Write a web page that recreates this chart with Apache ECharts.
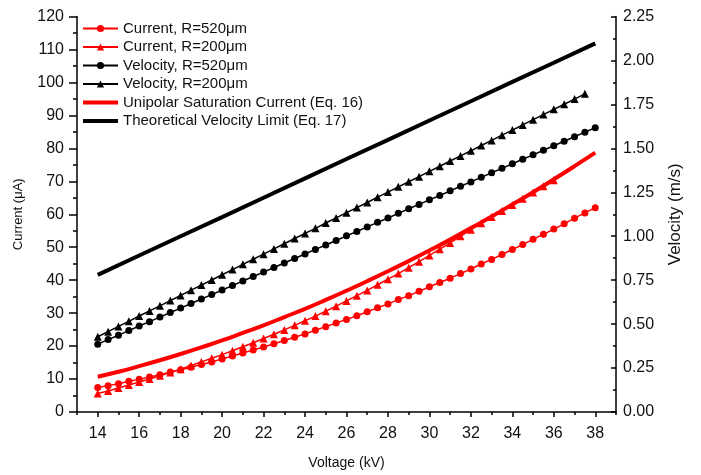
<!DOCTYPE html>
<html>
<head>
<meta charset="utf-8">
<script src="https://cdn.jsdelivr.net/npm/echarts@6/dist/echarts.min.js"></script>
<style>
html,body{margin:0;padding:0;background:#fff;}
#chart{width:701px;height:475px;}
</style>
</head>
<body>
<div id="chart"></div>
<script>
// ---- Data ----
var voltageStep = [14,14.5,15,15.5,16,16.5,17,17.5,18,18.5,19,19.5,20,20.5,21,21.5,22,22.5,23,23.5,24,24.5,25,25.5,26,26.5,27,27.5,28,28.5,29,29.5,30,30.5,31,31.5,32,32.5,33,33.5,34,34.5,35,35.5,36,36.5,37,37.5,38];

// Current, R=520um (uA), 14..38 kV step 0.5
var current520 = [7.4,8.0,8.6,9.3,9.9,10.6,11.3,12.1,12.8,13.6,14.4,15.2,16.1,17.0,17.9,18.8,19.7,20.7,21.7,22.7,23.7,24.8,25.9,27.0,28.1,29.2,30.4,31.6,32.8,34.1,35.3,36.6,38.0,39.3,40.6,42.0,43.4,44.9,46.3,47.8,49.3,50.8,52.4,53.9,55.5,57.1,58.8,60.4,62.0];

// Current, R=200um (uA), 14..36 kV step 0.5
var current200 = [5.6,6.4,7.3,8.2,9.1,10.0,11.0,12.0,13.0,14.1,15.2,16.3,17.4,18.6,19.8,21.0,22.3,23.6,24.9,26.3,27.7,29.1,30.6,32.1,33.7,35.3,36.9,38.6,40.3,42.0,43.8,45.6,47.5,49.4,51.3,53.3,55.3,57.3,59.2,61.0,62.8,64.7,66.6,68.5,70.3];

// Velocity, R=520um (m/s), 14..38 kV step 0.5
var velocity520 = [0.386,0.412,0.437,0.463,0.489,0.514,0.540,0.566,0.591,0.617,0.643,0.668,0.694,0.719,0.745,0.771,0.796,0.822,0.848,0.873,0.899,0.925,0.950,0.976,1.002,1.027,1.053,1.079,1.104,1.130,1.156,1.181,1.207,1.232,1.258,1.284,1.309,1.335,1.361,1.386,1.412,1.438,1.463,1.489,1.515,1.540,1.566,1.592,1.617];

// Velocity, R=200um (m/s), 14..37.5 kV step 0.5
var velocity200 = [0.428,0.457,0.487,0.516,0.546,0.575,0.604,0.634,0.663,0.693,0.722,0.751,0.781,0.810,0.840,0.869,0.898,0.928,0.957,0.987,1.016,1.045,1.075,1.104,1.134,1.163,1.192,1.222,1.251,1.281,1.310,1.339,1.369,1.398,1.428,1.457,1.486,1.516,1.545,1.575,1.604,1.633,1.663,1.692,1.722,1.751,1.780,1.810];

// Unipolar saturation current (Eq. 16), 14..38 kV step 1
var voltageInt = [14,15,16,17,18,19,20,21,22,23,24,25,26,27,28,29,30,31,32,33,34,35,36,37,38];
var saturationCurrent = [10.7,12.2,13.9,15.7,17.6,19.6,21.7,24.0,26.3,28.8,31.3,34.0,36.8,39.7,42.7,45.8,49.0,52.3,55.8,59.3,63.0,66.7,70.6,74.6,78.7];

// Theoretical velocity limit (Eq. 17), 14..38 kV step 2
var voltageEven = [14,16,18,20,22,24,26,28,30,32,34,36,38];
var velocityLimit = [0.780,0.890,1.000,1.109,1.219,1.329,1.439,1.548,1.658,1.768,1.878,1.987,2.097];

var xMajorTicks = [14,16,18,20,22,24,26,28,30,32,34,36,38];
var xMinorTicks = [13,15,17,19,21,23,25,27,29,31,33,35,37,39];

var seriesNames = ['Current, R=520μm','Current, R=200μm','Velocity, R=520μm','Velocity, R=200μm','Unipolar Saturation Current (Eq. 16)','Theoretical Velocity Limit (Eq. 17)'];

function pairs(xs, ys){ var out=[]; for(var i=0;i<ys.length;i++){ out.push([xs[i], ys[i]]); } return out; }

var FONT = 'Liberation Sans, Arial, sans-serif';
var RED = '#ff0000', BLACK = '#000000';
// thick-line legend icon (bounding box 35 x 9, bar in the middle)
var THICK_ICON = 'path://M0,0L0.001,0L0.001,0.001ZM0,2.6L35,2.6L35,6.4L0,6.4ZM0,9L0.001,9L0.001,8.999Z';

var chart = echarts.init(document.getElementById('chart'), null, {renderer:'canvas'});
var axisLine = {show:true, lineStyle:{color:'#000', width:1.5}};
var tickStyle = {color:'#000', width:1.5};

chart.setOption({
  animation:false,
  backgroundColor:'#fff',
  textStyle:{fontFamily:FONT},
  grid:{left:77, right:85, top:16.5, bottom:59, containLabel:false},
  legend:{
    orient:'vertical', left:77, top:16,
    itemWidth:35, itemHeight:9, itemGap:3.5,
    textStyle:{fontSize:15, color:'#111', fontFamily:FONT},
    data:[
      {name:seriesNames[0]},
      {name:seriesNames[1]},
      {name:seriesNames[2]},
      {name:seriesNames[3]},
      {name:seriesNames[4], icon:THICK_ICON},
      {name:seriesNames[5], icon:THICK_ICON}
    ]
  },
  xAxis:[{
    type:'value', min:13, max:39, position:'bottom',
    axisLine:axisLine,
    axisTick:{show:true, customValues:xMajorTicks, length:5, lineStyle:tickStyle},
    axisLabel:{customValues:xMajorTicks, fontSize:16, margin:14, color:'#111', fontFamily:FONT},
    splitLine:{show:false},
    name:'Voltage (kV)', nameLocation:'middle', nameGap:44,
    nameTextStyle:{fontSize:14, color:'#111', fontFamily:FONT}
  },{
    type:'value', min:13, max:39, position:'bottom',
    axisLine:{show:false},
    axisTick:{show:true, customValues:xMinorTicks, length:3, lineStyle:tickStyle},
    axisLabel:{show:false},
    splitLine:{show:false}
  }],
  yAxis:[{
    type:'value', min:0, max:120, interval:10, position:'left',
    axisLine:axisLine,
    axisTick:{show:true, length:8, lineStyle:tickStyle},
    minorTick:{show:true, splitNumber:2, length:4, lineStyle:tickStyle},
    axisLabel:{fontSize:16, margin:13, color:'#111', fontFamily:FONT},
    splitLine:{show:false},
    name:'Current (μA)', nameLocation:'middle', nameRotate:90, nameGap:52,
    nameTextStyle:{fontSize:13, color:'#111', fontFamily:FONT}
  },{
    type:'value', min:0, max:2.25, interval:0.25, position:'right',
    axisLine:axisLine,
    axisTick:{show:true, inside:true, length:5, lineStyle:tickStyle},
    minorTick:{show:true, splitNumber:2, length:3, lineStyle:tickStyle},
    axisLabel:{fontSize:16, margin:7, color:'#111', fontFamily:FONT, formatter:function(v){return v.toFixed(2);}},
    splitLine:{show:false},
    name:'Velocity (m/s)', nameLocation:'middle', nameRotate:90, nameGap:51,
    nameTextStyle:{fontSize:17, color:'#111', fontFamily:FONT}
  }],
  series:[{
    name:seriesNames[0], type:'line', xAxisIndex:0, yAxisIndex:0,
    data:pairs(voltageStep, current520),
    symbol:'circle', symbolSize:7, showAllSymbol:true,
    lineStyle:{color:RED, width:1.5}, itemStyle:{color:RED}
  },{
    name:seriesNames[1], type:'line', xAxisIndex:0, yAxisIndex:0,
    data:pairs(voltageStep, current200),
    symbol:'triangle', symbolSize:8, showAllSymbol:true,
    lineStyle:{color:RED, width:1.5}, itemStyle:{color:RED}
  },{
    name:seriesNames[2], type:'line', xAxisIndex:0, yAxisIndex:1,
    data:pairs(voltageStep, velocity520),
    symbol:'circle', symbolSize:7, showAllSymbol:true,
    lineStyle:{color:BLACK, width:1.5}, itemStyle:{color:BLACK}
  },{
    name:seriesNames[3], type:'line', xAxisIndex:0, yAxisIndex:1,
    data:pairs(voltageStep, velocity200),
    symbol:'triangle', symbolSize:8, showAllSymbol:true,
    lineStyle:{color:BLACK, width:1.5}, itemStyle:{color:BLACK}
  },{
    name:seriesNames[4], type:'line', xAxisIndex:0, yAxisIndex:0,
    data:pairs(voltageInt, saturationCurrent),
    symbol:'none', smooth:true,
    lineStyle:{color:RED, width:4}, itemStyle:{color:RED}
  },{
    name:seriesNames[5], type:'line', xAxisIndex:0, yAxisIndex:1,
    data:pairs(voltageEven, velocityLimit),
    symbol:'none',
    lineStyle:{color:BLACK, width:4}, itemStyle:{color:BLACK}
  }]
});
</script>
</body>
</html>
